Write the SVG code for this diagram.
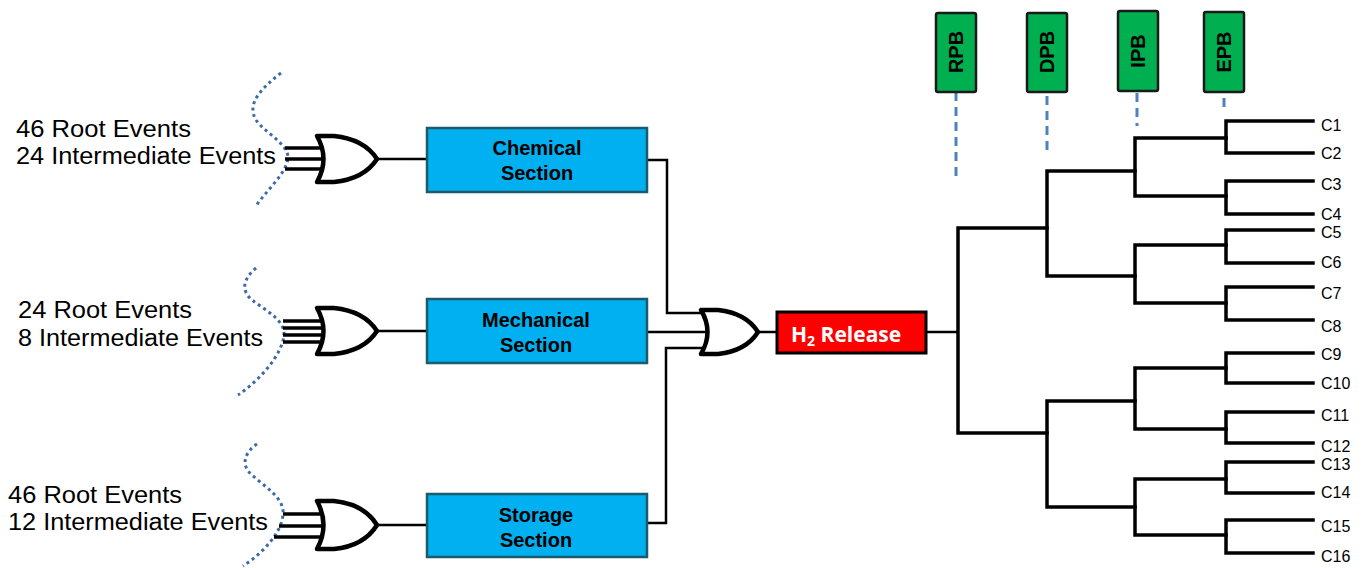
<svg xmlns="http://www.w3.org/2000/svg" width="1364" height="568" viewBox="0 0 1364 568">
<style>
.lbl{font-family:"Liberation Sans",Arial,sans-serif;font-size:23px;fill:#000}
.sec{fill:#00b0f0;stroke:#1d5a6a;stroke-width:2.5}
.sect{font-family:"Liberation Sans",Arial,sans-serif;font-size:20px;font-weight:bold;fill:#000;text-anchor:middle}
.gate{fill:#fff;stroke:#000;stroke-width:4.5;stroke-linejoin:round}
.in{stroke:#000;stroke-width:3.5;fill:none}
.dot{fill:none;stroke:#3e6aa6;stroke-width:3;stroke-dasharray:3 3.5}
.wire{stroke:#000;stroke-width:2.5;fill:none}
.tree{stroke:#000;stroke-width:3.5;fill:none;stroke-linecap:square}
.pb{fill:#00b050;stroke:#1a1a1a;stroke-width:2.5}
.pbt{font-family:"Liberation Sans",Arial,sans-serif;font-size:20px;font-weight:bold;fill:#000;text-anchor:middle}
.dash{stroke:#4f81bd;stroke-width:3;stroke-dasharray:9 6}
.c{font-family:"Liberation Sans",Arial,sans-serif;font-size:16px;fill:#000}
</style>
<rect width="1364" height="568" fill="#fff"/>

<g id="events-1">
<path class="dot" d="M 281 73 C 262 88, 246 103, 256 120 C 264 132, 287 143, 288 157 C 288 172, 265 192, 256 206"/>
<text class="lbl" x="16" y="137" textLength="175" lengthAdjust="spacingAndGlyphs">46 Root Events</text>
<text class="lbl" x="16" y="164" textLength="260" lengthAdjust="spacingAndGlyphs">24 Intermediate Events</text>
</g>
<g id="events-2">
<path class="dot" d="M 256 268 C 244 278, 240 290, 252 300 C 265 310, 285 320, 284 335 C 282 355, 260 380, 238 395"/>
<text class="lbl" x="18" y="318" textLength="174" lengthAdjust="spacingAndGlyphs">24 Root Events</text>
<text class="lbl" x="18" y="346" textLength="245" lengthAdjust="spacingAndGlyphs">8 Intermediate Events</text>
</g>
<g id="events-3">
<path class="dot" d="M 257 444 C 245 452, 240 465, 252 475 C 265 487, 285 498, 283 515 C 281 535, 260 555, 243 566"/>
<text class="lbl" x="8" y="503" textLength="174" lengthAdjust="spacingAndGlyphs">46 Root Events</text>
<text class="lbl" x="8" y="530" textLength="260" lengthAdjust="spacingAndGlyphs">12 Intermediate Events</text>
</g>

<g id="connectors">
<line class="in" x1="285" y1="148" x2="325" y2="148"/>
<line class="in" x1="285" y1="159" x2="328" y2="159"/>
<line class="in" x1="285" y1="169" x2="325" y2="169"/>
<line class="in" x1="283" y1="321" x2="325" y2="321"/>
<line class="in" x1="283" y1="328" x2="327" y2="328"/>
<line class="in" x1="283" y1="335" x2="327" y2="335"/>
<line class="in" x1="283" y1="342" x2="325" y2="342"/>
<line class="in" x1="283" y1="514" x2="325" y2="514"/>
<line class="in" x1="279" y1="526" x2="328" y2="526"/>
<line class="in" x1="274" y1="537" x2="325" y2="537"/>
<line class="wire" x1="377" y1="159" x2="427" y2="159"/>
<line class="wire" x1="377" y1="331" x2="427" y2="331"/>
<line class="wire" x1="377" y1="525" x2="427" y2="525"/>
<polyline class="wire" points="647,160 667,160 667,313 706,313"/>
<line class="wire" x1="647" y1="332" x2="712" y2="332"/>
<polyline class="wire" points="647,523 666,523 666,348 706,348"/>
<line class="wire" x1="758" y1="332" x2="777" y2="332"/>
<line class="wire" x1="926" y1="332" x2="958" y2="332"/>
<line class="dash" x1="956" y1="92" x2="956" y2="182"/>
<line class="dash" x1="1047" y1="96" x2="1047" y2="152"/>
<line class="dash" x1="1137" y1="93" x2="1137" y2="126"/>
<line class="dash" x1="1224" y1="98" x2="1224" y2="111"/>
<g id="tree">
<polyline class="tree" points="1047,228 958,228 958,433 1047,433"/>
<polyline class="tree" points="1135,171 1047,171 1047,276 1135,276"/>
<polyline class="tree" points="1135,401 1047,401 1047,507 1135,507"/>
<polyline class="tree" points="1226,138 1135,138 1135,196 1226,196"/>
<polyline class="tree" points="1226,245 1135,245 1135,303 1226,303"/>
<polyline class="tree" points="1226,368 1135,368 1135,429 1226,429"/>
<polyline class="tree" points="1226,479 1135,479 1135,535 1226,535"/>
<polyline class="tree" points="1313,121 1226,121 1226,153 1313,153"/>
<polyline class="tree" points="1313,181 1226,181 1226,214 1313,214"/>
<polyline class="tree" points="1313,230 1226,230 1226,263 1313,263"/>
<polyline class="tree" points="1313,287 1226,287 1226,320 1313,320"/>
<polyline class="tree" points="1313,353 1226,353 1226,383 1313,383"/>
<polyline class="tree" points="1313,412 1226,412 1226,443 1313,443"/>
<polyline class="tree" points="1313,462 1226,462 1226,493 1313,493"/>
<polyline class="tree" points="1313,520 1226,520 1226,553 1313,553"/>
</g>
</g>

<g id="gate-1"><path class="gate" d="M 317 136 L 334 136 Q 364 139 377 159 Q 364 179 334 182 L 317 182 Q 330 159 317 136 Z"/></g>
<g id="gate-2"><path class="gate" d="M 317 308 L 334 308 Q 364 311 377 331 Q 364 351 334 354 L 317 354 Q 330 331 317 308 Z"/></g>
<g id="gate-3"><path class="gate" d="M 317 501 L 334 501 Q 364 504 377 525 Q 364 546 334 549 L 317 549 Q 330 525 317 501 Z"/></g>
<g id="gate-main"><path class="gate" d="M 701 310 L 718 310 Q 746 313 758 332 Q 746 351 718 354 L 701 354 Q 714 332 701 310 Z"/></g>

<g id="chemical">
<rect class="sec" x="427" y="128" width="220" height="64"/>
<text class="sect" x="537" y="155">Chemical</text>
<text class="sect" x="537" y="180">Section</text>
</g>
<g id="mechanical">
<rect class="sec" x="427" y="299" width="220" height="64"/>
<text class="sect" x="536" y="327">Mechanical</text>
<text class="sect" x="536" y="352">Section</text>
</g>
<g id="storage">
<rect class="sec" x="427" y="494" width="220" height="63"/>
<text class="sect" x="536" y="522">Storage</text>
<text class="sect" x="536" y="547">Section</text>
</g>

<g id="h2-release">
<rect x="777" y="312" width="149" height="41" fill="#ff0000" stroke="#000" stroke-width="3"/>
<text x="791" y="342" font-family="'Open Sans','Liberation Sans',sans-serif" font-size="21" font-weight="bold" fill="#fff">H<tspan font-size="14" dy="4">2</tspan><tspan dy="-4"> Release</tspan></text>
</g>

<g id="rpb"><rect class="pb" x="936" y="13" width="40" height="79" rx="2"/><text class="pbt" transform="translate(963,52) rotate(-90)">RPB</text></g>
<g id="dpb"><rect class="pb" x="1027" y="13" width="40" height="79" rx="2"/><text class="pbt" transform="translate(1054,52) rotate(-90)">DPB</text></g>
<g id="ipb"><rect class="pb" x="1118" y="11" width="40" height="80" rx="2"/><text class="pbt" transform="translate(1145,51) rotate(-90)">IPB</text></g>
<g id="epb"><rect class="pb" x="1204" y="12" width="40" height="80" rx="2"/><text class="pbt" transform="translate(1231,52) rotate(-90)">EPB</text></g>

<g id="labels">
<text class="c" x="1321" y="131">C1</text>
<text class="c" x="1321" y="159">C2</text>
<text class="c" x="1321" y="190">C3</text>
<text class="c" x="1321" y="220">C4</text>
<text class="c" x="1321" y="238">C5</text>
<text class="c" x="1321" y="268">C6</text>
<text class="c" x="1321" y="299">C7</text>
<text class="c" x="1321" y="332">C8</text>
<text class="c" x="1321" y="360">C9</text>
<text class="c" x="1321" y="389">C10</text>
<text class="c" x="1321" y="421">C11</text>
<text class="c" x="1321" y="452">C12</text>
<text class="c" x="1321" y="470">C13</text>
<text class="c" x="1321" y="498">C14</text>
<text class="c" x="1321" y="532">C15</text>
<text class="c" x="1321" y="562">C16</text>
</g>
</svg>
